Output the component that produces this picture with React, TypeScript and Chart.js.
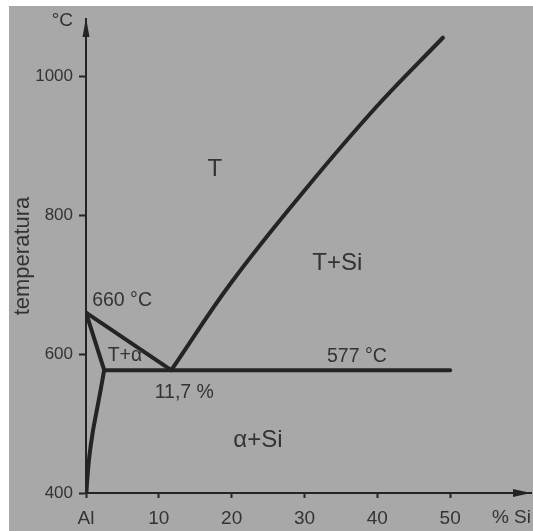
import React, { useEffect, useRef } from 'react';
import { Chart, registerables } from 'chart.js';

Chart.register(...registerables);

// ---- data ----
const xTickValues = [0, 10, 20, 30, 40, 50];
const xTickLabels = ['Al', '10', '20', '30', '40', '50'];
const yTickValues = [400, 600, 800, 1000];

const liquidusAlX = [0, 11.7];
const liquidusAlY = [660, 577];
const liquidusSiX = [11.7, 20, 30, 40, 49];
const liquidusSiY = [577, 704, 836, 958, 1056];
const solidusX = [0, 2.5];
const solidusY = [660, 577];
const solvusX = [2.5, 2.0, 1.5, 0.9, 0.45, 0.2, 0.05];
const solvusY = [577, 548, 520, 486, 452, 423, 400];
const eutecticX = [2.5, 50];
const eutecticY = [577, 577];

const regionTexts = ['T', 'T+Si', 'α+Si'];
const regionX = [17.7, 34.5, 23.6];
const regionY = [867, 731, 476];
const noteTexts = ['T+α', '660 °C', '577 °C', '11,7 %'];
const noteX = [5.35, 4.95, 37.2, 13.5];
const noteY = [598, 677, 597, 545];

// ---- styles ----
const FAMILY = '"Liberation Sans", Arial, sans-serif';
const BG = '#a8a8a8';
const INK = '#242424';
const TEXT = '#333333';

const toPoints = (xs: number[], ys: number[]) => xs.map((x, i) => ({ x, y: ys[i] }));

const decor = {
  id: 'decor',
  beforeDraw(chart: any) {
    const { ctx, width, height } = chart;
    ctx.save();
    ctx.fillStyle = '#ffffff';
    ctx.fillRect(0, 0, width, height);
    ctx.fillStyle = BG;
    ctx.fillRect(9, 6, width - 9, height - 6);
    ctx.restore();
  },
  afterDraw(chart: any) {
    const { ctx, chartArea } = chart;
    const xs = chart.scales.x;
    const ys = chart.scales.y;
    const { left, right, top, bottom } = chartArea;
    ctx.save();
    ctx.fillStyle = INK;
    // x arrow
    ctx.beginPath();
    ctx.moveTo(right, bottom);
    ctx.lineTo(right - 18, bottom - 4);
    ctx.lineTo(right - 18, bottom + 4);
    ctx.closePath();
    ctx.fill();
    // y arrow
    ctx.beginPath();
    ctx.moveTo(left, top - 1);
    ctx.lineTo(left - 3.5, top + 18);
    ctx.lineTo(left + 3.5, top + 18);
    ctx.closePath();
    ctx.fill();
    // unit
    ctx.fillStyle = TEXT;
    ctx.textBaseline = 'middle';
    ctx.textAlign = 'right';
    ctx.font = `19px ${FAMILY}`;
    ctx.fillText('°C', left - 13, top + 2);
    ctx.textAlign = 'center';
    ctx.font = `24px ${FAMILY}`;
    regionTexts.forEach((t, i) => {
      ctx.fillText(t, xs.getPixelForValue(regionX[i]), ys.getPixelForValue(regionY[i]));
    });
    ctx.font = `19.5px ${FAMILY}`;
    noteTexts.forEach((t, i) => {
      ctx.fillText(t, xs.getPixelForValue(noteX[i]), ys.getPixelForValue(noteY[i]));
    });
    ctx.restore();
  },
};

export default function App() {
  const ref = useRef<HTMLCanvasElement | null>(null);
  useEffect(() => {
    document.body.style.margin = '0';
    const canvas = ref.current;
    if (!canvas) return;
    const line = (xs: number[], ys: number[], tension = 0) => ({
      data: toPoints(xs, ys),
      borderColor: INK,
      borderWidth: 4,
      pointRadius: 0,
      tension,
      fill: false,
      showLine: true,
      borderJoinStyle: 'round' as const,
      borderCapStyle: 'round' as const,
    });
    const chart = new Chart(canvas, {
      type: 'scatter',
      data: {
        datasets: [
          line(liquidusAlX, liquidusAlY),
          line(liquidusSiX, liquidusSiY, 0.4),
          line(solidusX, solidusY),
          line(solvusX, solvusY, 0.35),
          line(eutecticX, eutecticY),
        ],
      },
      options: {
        animation: false,
        responsive: false,
        devicePixelRatio: 1,
        layout: { padding: { top: 19, right: 2, left: 0, bottom: 0 } },
        plugins: { legend: { display: false }, tooltip: { enabled: false } },
        scales: {
          x: {
            type: 'linear',
            min: 0,
            max: 61.1,
            afterBuildTicks: (s: any) => {
              s.ticks = xTickValues.map((v) => ({ value: v }));
            },
            afterFit: (s: any) => {
              s.height = 38;
            },
            ticks: {
              callback: (_v: any, i: number) => xTickLabels[i],
              font: { size: 19, family: FAMILY },
              color: TEXT,
              padding: 9,
              maxRotation: 0,
              autoSkip: false,
            },
            grid: { drawOnChartArea: false, drawTicks: true, tickLength: 5, tickWidth: 2, color: INK },
            border: { display: true, color: INK, width: 2 },
            title: {
              display: true,
              text: '% Si',
              align: 'end',
              font: { size: 19, family: FAMILY },
              color: TEXT,
              padding: { top: 0, bottom: 2 },
            },
          },
          y: {
            type: 'linear',
            min: 400,
            max: 1083,
            afterBuildTicks: (s: any) => {
              s.ticks = yTickValues.map((v) => ({ value: v }));
            },
            afterFit: (s: any) => {
              s.width = 86;
            },
            ticks: {
              callback: (v: any) => String(v),
              font: { size: 17, family: FAMILY },
              color: TEXT,
              padding: 6,
              autoSkip: false,
            },
            grid: { drawOnChartArea: false, drawTicks: true, tickLength: 7, tickWidth: 2, color: INK },
            border: { display: true, color: INK, width: 2 },
            title: {
              display: true,
              text: 'temperatura',
              font: { size: 22, family: FAMILY },
              color: TEXT,
              padding: { top: 10, bottom: 0 },
            },
          },
        },
      },
      plugins: [decor],
    });
    return () => chart.destroy();
  }, []);
  return (
    <div style={{ position: 'absolute', left: 0, top: 0 }}>
      <canvas ref={ref} width={533} height={531} style={{ display: 'block' }} />
    </div>
  );
}
